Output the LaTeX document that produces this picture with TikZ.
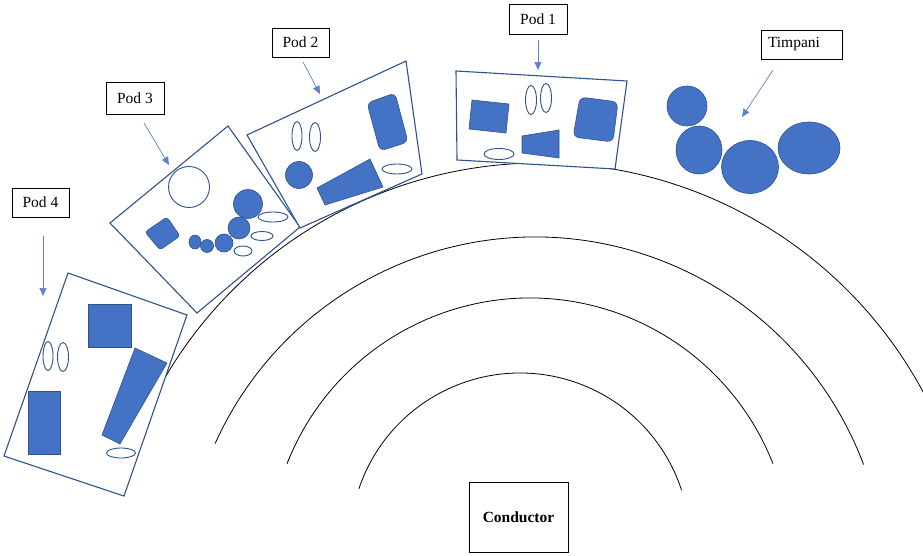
\documentclass[tikz,border=0pt]{standalone}
\usepackage{fontspec}
\setmainfont{Liberation Serif}
\usetikzlibrary{arrows.meta}
\definecolor{podblue}{HTML}{4472C4}
\definecolor{podline}{HTML}{2F528F}
\definecolor{arrowblue}{HTML}{5B84CF}

\begin{document}
\begin{tikzpicture}[x=1pt, y=-1pt]
	\tikzset{podbox/.style={draw=podline, line width=1.1pt, fill=white},
		podfill/.style={draw=podline, line width=0.6pt, fill=podblue},
		podring/.style={draw=podline, line width=0.9pt},
		seat/.style={draw=black, line width=0.8pt},
		lbl/.style={draw=black, line width=0.7pt, fill=white, inner sep=0pt, font=\fontsize{15.5}{18}\selectfont},
		pointer/.style={draw=arrowblue, line width=0.7pt, -{Triangle[length=8pt, width=7pt]}}};

	\useasboundingbox (0,0) rectangle (923,556);

	% rangees
	\draw[seat] (540,598) ++(210.5:435) arc[start angle=210.5, end angle=332.9, radius=435];
	\draw[seat] (535,588) ++(204.3:351) arc[start angle=204.3, end angle=339.4, radius=351];
	\draw[seat] (530,559) ++(201.4:261) arc[start angle=201.4, end angle=338.6, radius=261];
	\draw[seat] (520,543) ++(198.6:170) arc[start angle=198.6, end angle=341.9, radius=170];

	% pod 4
	\draw[podbox] (68,273) -- (187,315) -- (124,496) -- (4,456) -- cycle;
	\draw[podfill] (88,304) rectangle (131,347);
	\draw[podfill] (28,391) rectangle (60,454);
	\draw[podfill] (135,348) -- (167,363) -- (120,444) -- (102,435) -- cycle;
	\draw[podring] (48,356) ellipse[x radius=5, y radius=14.5];
	\draw[podring] (63,357) ellipse[x radius=5.5, y radius=14.5];
	\draw[podring] (121,453) ellipse[x radius=14.5, y radius=5];

	% pod 3
	\draw[podbox] (228,126) -- (300,227) -- (197,313) -- (110,223) -- cycle;
	\draw[podring] (189,187) circle[radius=20.5];
	\draw[podfill, rounded corners=3pt] (145,232) -- (167,217) -- (180,236) -- (160,250) -- cycle;
	\draw[podfill] (195,242) ellipse[x radius=6, y radius=7];
	\draw[podfill] (207,246) circle[radius=6.5];
	\draw[podfill] (224,243) circle[radius=9];
	\draw[podfill] (239,228) circle[radius=11];
	\draw[podfill] (248,204) circle[radius=14.5];
	\draw[podring] (273,217) ellipse[x radius=15, y radius=5];
	\draw[podring] (262,236) ellipse[x radius=11, y radius=4.5];
	\draw[podring] (243,251) ellipse[x radius=9, y radius=5];

	% pod 2
	\draw[podbox] (247,135) -- (406,61) -- (422,174) -- (300,228) -- cycle;
	\draw[podring] (297,136) ellipse[x radius=5, y radius=14.5];
	\draw[podring] (315,137) ellipse[x radius=5.5, y radius=14.5];
	\draw[podfill] (299,175) circle[radius=13.5];
	\draw[podfill, rounded corners=5pt] (367,103) -- (395,93) -- (408,142) -- (380,151) -- cycle;
	\draw[podfill] (317,188) -- (370,159) -- (383,187) -- (325,205) -- cycle;
	\draw[podring] (397,169) ellipse[x radius=15, y radius=5];

	% pod 1
	\draw[podbox] (456,71) -- (627,81) -- (615,169) -- (457,160) -- cycle;
	\draw[podfill] (472,100) -- (509,104) -- (506,133) -- (469,129) -- cycle;
	\draw[podring] (531,100) ellipse[x radius=5.5, y radius=14.5];
	\draw[podring] (546,98) ellipse[x radius=5.5, y radius=14.5];
	\draw[podfill, rounded corners=6pt] (580,97) -- (618,102) -- (613,142) -- (573,137) -- cycle;
	\draw[podfill] (522,136) -- (559,130) -- (559,158) -- (522,153) -- cycle;
	\draw[podring] (499,154) ellipse[x radius=15, y radius=5.5];

	% timbales
	\draw[podfill] (687,106) circle[radius=20];
	\draw[podfill] (699,150) ellipse[x radius=23, y radius=24];
	\draw[podfill] (750,167) ellipse[x radius=28.5, y radius=26.5];
	\draw[podfill] (809,148) ellipse[x radius=31, y radius=26];

	% etiquettes
	\node[lbl, minimum width=57pt, minimum height=29pt] (lab4) at (40.5,202.5) {Pod 4};
	\node[lbl, minimum width=58pt, minimum height=32pt] (lab3) at (135,98) {Pod 3};
	\node[lbl, minimum width=57pt, minimum height=29pt] (lab2) at (300.5,42.5) {Pod 2};
	\node[lbl, minimum width=58pt, minimum height=30pt] (lab1) at (538,19) {Pod 1};
	\node[lbl, minimum height=29pt, inner xsep=7pt, text width=67pt, align=left] (labt) at (801.5,44.5) {Timpani};
	\node[lbl, minimum width=99pt, minimum height=70pt, font=\fontsize{15.5}{18}\selectfont\bfseries] (cond) at (518.5,517) {Conductor};

	\coordinate (a4) at (43,236);  \coordinate (b4) at (43,296);
	\coordinate (a3) at (144,123); \coordinate (b3) at (169,165);
	\coordinate (a2) at (303,62);  \coordinate (b2) at (320,94);
	\coordinate (a1) at (538,40);  \coordinate (b1) at (538,70);
	\coordinate (at) at (773,70);  \coordinate (bt) at (742,117);

	\draw[pointer] (a4) -- (b4);
	\draw[pointer] (a3) -- (b3);
	\draw[pointer] (a2) -- (b2);
	\draw[pointer] (a1) -- (b1);
	\draw[pointer] (at) -- (bt);

\end{tikzpicture}
\end{document}
